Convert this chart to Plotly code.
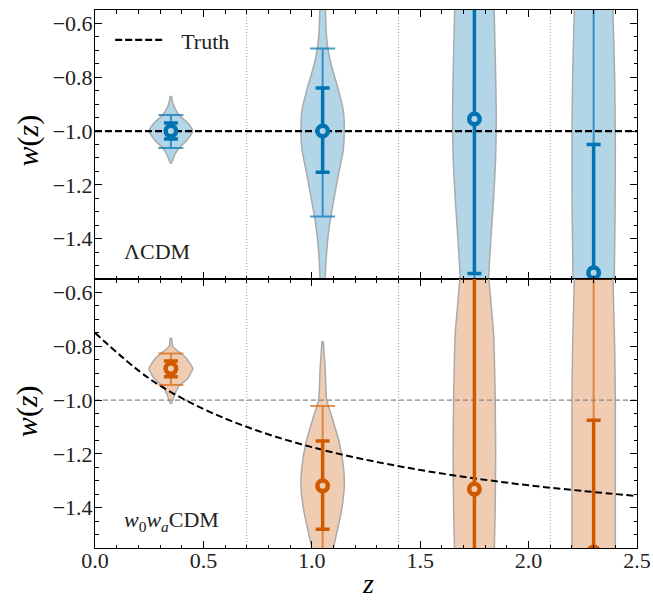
import plotly.graph_objects as go
from plotly.subplots import make_subplots

# ---------------- data ----------------
Z_CENTERS = [0.35, 1.05, 1.75, 2.30]
BIN_EDGES = [0.7, 1.4, 2.1]

# LCDM panel: medians and credible intervals
LCDM_MEDIAN = [-1.000, -1.000, -0.955, -1.527]
LCDM_LO68 = [-1.030, -1.153, -1.530, -2.000]
LCDM_HI68 = [-0.970, -0.840, -0.300, -1.050]
LCDM_LO95 = [-1.063, -1.318, -2.200, -2.500]
LCDM_HI95 = [-0.940, -0.693, 0.000, 0.000]

# w0waCDM panel
W0WA_MEDIAN = [-0.883, -1.319, -1.331, -1.565]
W0WA_LO68 = [-0.913, -1.480, -2.000, -2.000]
W0WA_HI68 = [-0.855, -1.152, -0.300, -1.075]
W0WA_LO95 = [-0.944, -2.000, -2.500, -2.500]
W0WA_HI95 = [-0.827, -1.022, 0.000, -0.300]

# violin outlines: w values and half-widths (in z units)
LCDM_VIOLIN_W = [
    [-0.869, -0.89, -0.91, -0.94, -0.97, -1.0, -1.034, -1.063, -1.09, -1.119],
    [-0.45, -0.55, -0.65, -0.72, -0.761, -0.836, -0.922, -1.0, -1.071, -1.157, -1.257, -1.358, -1.455, -1.549, -1.65],
    [-0.45, -0.55, -0.75, -0.95, -1.1, -1.257, -1.4, -1.55, -1.65],
    [-0.45, -0.55, -0.8, -1.05, -1.3, -1.55, -1.65],
]
LCDM_VIOLIN_HW = [
    [0.003, 0.007, 0.015, 0.038, 0.078, 0.101, 0.074, 0.037, 0.017, 0.003],
    [0.012, 0.013, 0.018, 0.030, 0.042, 0.069, 0.095, 0.100, 0.095, 0.074, 0.051, 0.030, 0.018, 0.012, 0.010],
    [0.090, 0.091, 0.097, 0.101, 0.098, 0.088, 0.076, 0.065, 0.058],
    [0.087, 0.089, 0.097, 0.100, 0.099, 0.095, 0.093],
]
W0WA_VIOLIN_W = [
    [-0.768, -0.80, -0.812, -0.843, -0.883, -0.923, -0.948, -0.979, -1.012],
    [-0.781, -0.886, -0.997, -1.072, -1.158, -1.257, -1.319, -1.406, -1.48, -1.546, -1.65],
    [-0.45, -0.55, -0.75, -1.0, -1.2, -1.4, -1.55, -1.65],
    [-0.45, -0.55, -0.8, -1.0, -1.2, -1.55, -1.65],
]
W0WA_VIOLIN_HW = [
    [0.003, 0.008, 0.023, 0.069, 0.101, 0.074, 0.037, 0.018, 0.003],
    [0.003, 0.012, 0.018, 0.046, 0.077, 0.097, 0.100, 0.088, 0.069, 0.051, 0.030],
    [0.062, 0.067, 0.088, 0.096, 0.098, 0.096, 0.092, 0.090],
    [0.087, 0.089, 0.097, 0.100, 0.100, 0.100, 0.100],
]

# truth curves
TRUTH_LCDM = -1.0
TRUTH_Z = [0.0, 0.25, 0.5, 0.75, 1.0, 1.25, 1.5, 1.75, 2.0, 2.25, 2.5]
TRUTH_W0WA = [-0.75, -0.92, -1.033, -1.114, -1.175, -1.222, -1.26, -1.291, -1.317, -1.338, -1.357]

X_TICKS = [0.0, 0.5, 1.0, 1.5, 2.0, 2.5]
X_TICK_TEXT = ["0.0", "0.5", "1.0", "1.5", "2.0", "2.5"]
Y_TICKS = [-1.4, -1.2, -1.0, -0.8, -0.6]
Y_TICK_TEXT = ["\u22121.4", "\u22121.2", "\u22121.0", "\u22120.8", "\u22120.6"]

# ---------------- styles ----------------
FONT = "Liberation Serif"
BLUE = "#0173b2"
BLUE_FILL = "rgba(1,115,178,0.30)"
BLUE_95 = "rgba(1,115,178,0.70)"
BLUE_MARK = "#b3d5e8"
ORANGE = "#d05a00"
ORANGE_FILL = "rgba(205,90,0,0.30)"
ORANGE_95 = "rgba(213,94,0,0.65)"
ORANGE_MARK = "#f0cdb0"

fig = make_subplots(rows=2, cols=1, shared_xaxes=True, vertical_spacing=0)


def add_violin(row, zc, ws, hws, fill):
    xs = [zc + h for h in hws] + [zc - h for h in reversed(hws)]
    ys = list(ws) + list(reversed(ws))
    fig.add_trace(go.Scatter(x=xs, y=ys, mode="lines", fill="toself", fillcolor=fill,
                             line=dict(color="#aaaaaa", width=1.5, shape="spline", smoothing=0.5),
                             showlegend=False, hoverinfo="skip"), row=row, col=1)


def add_errors(row, med, lo68, hi68, lo95, hi95, dark, c95):
    fig.add_trace(go.Scatter(
        x=Z_CENTERS, y=med, mode="markers", marker=dict(size=1, opacity=0),
        error_y=dict(type="data", symmetric=False,
                     array=[h - m for h, m in zip(hi95, med)],
                     arrayminus=[m - l for l, m in zip(lo95, med)],
                     color=c95, thickness=2, width=12.5),
        showlegend=False, hoverinfo="skip"), row=row, col=1)
    fig.add_trace(go.Scatter(
        x=Z_CENTERS, y=med, mode="markers", marker=dict(size=1, opacity=0),
        error_y=dict(type="data", symmetric=False,
                     array=[h - m for h, m in zip(hi68, med)],
                     arrayminus=[m - l for l, m in zip(lo68, med)],
                     color=dark, thickness=3.5, width=7),
        showlegend=False, hoverinfo="skip"), row=row, col=1)


def add_markers(row, med, dark, mfill):
    fig.add_trace(go.Scatter(
        x=Z_CENTERS, y=med, mode="markers",
        marker=dict(symbol="circle", size=10.5, color=mfill, line=dict(color=dark, width=4.5)),
        showlegend=False), row=row, col=1)


# violins
for zc, ws, hws in zip(Z_CENTERS, LCDM_VIOLIN_W, LCDM_VIOLIN_HW):
    add_violin(1, zc, ws, hws, BLUE_FILL)
for zc, ws, hws in zip(Z_CENTERS, W0WA_VIOLIN_W, W0WA_VIOLIN_HW):
    add_violin(2, zc, ws, hws, ORANGE_FILL)

# truth lines
fig.add_trace(go.Scatter(x=[0, 2.5], y=[TRUTH_LCDM, TRUTH_LCDM], mode="lines",
                         name="\u00a0\u00a0Truth",
                         line=dict(color="black", width=2.2, dash="7px,3px"), showlegend=True),
              row=1, col=1)
fig.add_trace(go.Scatter(x=[0, 2.5], y=[TRUTH_LCDM, TRUTH_LCDM], mode="lines",
                         line=dict(color="#888888", width=1.2, dash="5px,3px"), showlegend=False),
              row=2, col=1)
fig.add_trace(go.Scatter(x=TRUTH_Z, y=TRUTH_W0WA, mode="lines",
                         line=dict(color="black", width=2, dash="7px,3.5px", shape="spline"),
                         showlegend=False), row=2, col=1)

# error bars and markers
add_errors(1, LCDM_MEDIAN, LCDM_LO68, LCDM_HI68, LCDM_LO95, LCDM_HI95, BLUE, BLUE_95)
add_errors(2, W0WA_MEDIAN, W0WA_LO68, W0WA_HI68, W0WA_LO95, W0WA_HI95, ORANGE, ORANGE_95)
add_markers(1, LCDM_MEDIAN, BLUE, BLUE_MARK)
add_markers(2, W0WA_MEDIAN, ORANGE, ORANGE_MARK)

# bin edges
for r in (1, 2):
    for e in BIN_EDGES:
        fig.add_vline(x=e, line=dict(color="#999999", width=1, dash="1px,2px"), layer="below", row=r, col=1)

axis_common = dict(showline=True, linecolor="black", linewidth=1, mirror="ticks", ticks="inside",
                   ticklen=7, tickwidth=1, tickcolor="black", showgrid=False, zeroline=False,
                   automargin=False,
                   tickfont=dict(family=FONT, size=22, color="#222222"))
for r in (1, 2):
    fig.update_xaxes(range=[0, 2.5], tickvals=X_TICKS, ticktext=X_TICK_TEXT, ticklabelstandoff=-7,
                     minor=dict(ticks="inside", dtick=0.1, tick0=0, ticklen=3.5, tickcolor="black", showgrid=False),
                     showticklabels=(r == 2), row=r, col=1, **axis_common)
    fig.update_yaxes(range=[-1.55, -0.55], tickvals=Y_TICKS, ticktext=Y_TICK_TEXT, ticklabelstandoff=-3,
                     minor=dict(ticks="inside", dtick=0.05, tick0=0, ticklen=3.5, tickcolor="black", showgrid=False),
                     row=r, col=1, **axis_common)

ann_font = dict(family=FONT, size=22, color="#222222")
title_font = dict(family=FONT, size=30, color="black")
fig.update_layout(
    width=653, height=601,
    margin=dict(l=95, r=16, t=10, b=53, autoexpand=False),
    plot_bgcolor="white", paper_bgcolor="white",
    legend=dict(x=0.028, y=0.944, xanchor="left", yanchor="middle", bgcolor="rgba(0,0,0,0)",
                font=dict(family=FONT, size=22, color="#222222"), itemwidth=50),
    annotations=[
        dict(text="\u039bCDM", x=0.050, y=0.552, xref="paper", yref="paper", xanchor="left",
             yanchor="middle", showarrow=False, font=ann_font),
        dict(text="<i>w</i><sub>0</sub><i>w</i><sub><i>a</i></sub>CDM", x=0.050, y=0.050, xref="paper",
             yref="paper", xanchor="left", yanchor="middle", showarrow=False, font=ann_font),
        dict(text="<i>w</i>(<i>z</i>)", x=-0.124, y=0.757, xref="paper", yref="paper", textangle=-90,
             xanchor="center", yanchor="middle", showarrow=False, font=title_font),
        dict(text="<i>w</i>(<i>z</i>)", x=-0.124, y=0.254, xref="paper", yref="paper", textangle=-90,
             xanchor="center", yanchor="middle", showarrow=False, font=title_font),
        dict(text="<i>z</i>", x=0.504, y=-0.0975, xref="paper", yref="paper",
             xanchor="center", yanchor="bottom", showarrow=False, borderpad=0,
             font=dict(family=FONT, size=28, color="black")),
    ],
)

fig.write_html("out.html", config={"displayModeBar": False},
               post_script="document.body.style.margin='0px';document.body.style.overflow='hidden';")
